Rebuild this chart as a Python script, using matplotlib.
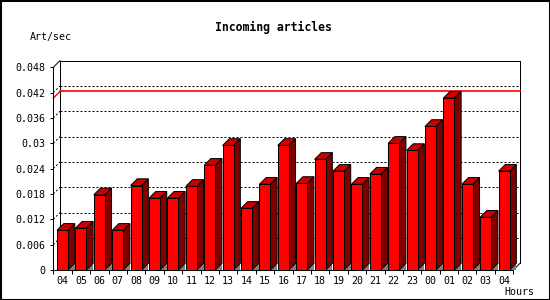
import matplotlib
matplotlib.use("Agg")
import matplotlib.pyplot as plt
from matplotlib.patches import Polygon, Rectangle
from matplotlib.lines import Line2D
import numpy as np

# ---------------- data ----------------
hours = ["04", "05", "06", "07", "08", "09", "10", "11", "12", "13", "14", "15",
         "16", "17", "18", "19", "20", "21", "22", "23", "00", "01", "02", "03", "04"]
rates = [0.0094, 0.0099, 0.0178, 0.0094, 0.0200, 0.0170, 0.0170, 0.0198, 0.0248,
         0.0295, 0.0146, 0.0203, 0.0295, 0.0205, 0.0262, 0.0234, 0.0203, 0.0227,
         0.0300, 0.0283, 0.0340, 0.0407, 0.0203, 0.0125, 0.0234]
yticks = [0, 0.006, 0.012, 0.018, 0.024, 0.030, 0.036, 0.042, 0.048]
ytick_labels = ["0", "0.006", "0.012", "0.018", "0.024", "0.03", "0.036", "0.042", "0.048"]
title = "Incoming articles"
ylabel = "Art/sec"
xlabel = "Hours"

# ---------------- figure ----------------
W, H = 550, 300
fig = plt.figure(figsize=(W / 100, H / 100), dpi=100)
fig.patch.set_facecolor("white")
fig.add_artist(Rectangle((0, 0), 1, 1, transform=fig.transFigure, fill=False,
                         edgecolor="black", lw=2.2))

ax_left, ax_right, ax_top, ax_bot = 53.3, 513.3, 67.3, 270.0
ax = fig.add_axes([ax_left / W, 1 - ax_bot / H, (ax_right - ax_left) / W, (ax_bot - ax_top) / H])
ax.set_facecolor("none")
n = len(rates)
xmin, xmax = -0.5, n - 0.5
ymax = yticks[-1]
ax.set_xlim(xmin, xmax)
ax.set_ylim(0, ymax)

# 3D depth in data units
depth_px = 6.7
px_per_x = (ax_right - ax_left) / (xmax - xmin)
px_per_y = (ax_bot - ax_top) / ymax
dx = depth_px / px_per_x
dy = depth_px / px_per_y

LW = 0.72
mono = "DejaVu Sans Mono"

def line(xs, ys, snap=None, **kw):
    ax.add_line(Line2D(xs, ys, clip_on=False, snap=snap, **kw))

# back frame
line([xmin + dx, xmax + dx], [ymax + dy, ymax + dy], snap=True, color="black", lw=LW, zorder=1)
line([xmin + dx, xmin + dx], [dy, ymax + dy], snap=True, color="black", lw=LW, zorder=1)
line([xmax + dx, xmax + dx], [dy, ymax + dy], snap=True, color="black", lw=LW, zorder=1)
line([xmin, xmin + dx], [ymax, ymax + dy], color="black", lw=LW, zorder=1)
line([xmax, xmax + dx], [0, dy], color="black", lw=LW, zorder=1)

# dotted grid lines on back wall
for yv in yticks[1:-1]:
    line([xmin + dx, xmax + dx], [yv + dy, yv + dy], snap=True, color="black",
         lw=LW, linestyle=(0, (2.0, 2.0)), zorder=1)
    line([xmin, xmin + dx], [yv, yv + dy], color="black",
         lw=LW, linestyle=(0, (2.0, 2.0)), zorder=1)

# max line
vmax = max(rates)
line([xmin, xmin + dx], [vmax, vmax + dy], color="#ff0000", lw=1.0, zorder=1.5)
line([xmin + dx, xmax + dx], [vmax + dy, vmax + dy], snap=True, color="#ff0000",
     lw=1.2, zorder=1.5)

# bars
bw = 0.6
for i, v in enumerate(rates):
    x0, x1 = i - bw / 2, i + bw / 2
    ax.add_patch(Polygon([(x1, 0), (x1 + dx, 0), (x1 + dx, dy)], closed=True,
                         facecolor="#808080", edgecolor="none", zorder=2, clip_on=False))
    ax.add_patch(Polygon([(x1, 0), (x1 + dx, dy), (x1 + dx, v + dy), (x1, v)], closed=True,
                         facecolor="#800000", edgecolor="black", lw=LW, zorder=3,
                         clip_on=False, joinstyle="miter"))
    ax.add_patch(Polygon([(x0, v), (x1, v), (x1 + dx, v + dy), (x0 + dx, v + dy)], closed=True,
                         facecolor="#cc0000", edgecolor="black", lw=LW, zorder=3,
                         clip_on=False, joinstyle="miter"))
    ax.add_patch(Rectangle((x0, 0), bw, v, facecolor="#ff0000", edgecolor="black",
                           lw=LW, zorder=4, clip_on=False, joinstyle="miter", snap=True))

# axes / ticks
for s in ["top", "right"]:
    ax.spines[s].set_visible(False)
for s in ["left", "bottom"]:
    ax.spines[s].set_linewidth(LW)
    ax.spines[s].set_zorder(5)

ax.set_yticks(yticks)
ax.set_yticklabels(ytick_labels, fontfamily=mono, fontsize=7.2)
ax.tick_params(axis="y", direction="out", length=2.5, width=LW, pad=3.5)

ax.set_xticks(np.arange(xmin, xmax + 0.01, 1.0))
ax.set_xticklabels([])
ax.tick_params(axis="x", which="major", direction="out", length=3, width=LW)
ax.set_xticks(np.arange(n), minor=True)
ax.set_xticklabels(hours, minor=True, fontfamily=mono, fontsize=7.2)
ax.tick_params(axis="x", which="minor", length=0, pad=4.5)

# texts
fig.text(273.8 / W, 1 - 27.3 / H, title, ha="center", va="center",
         fontfamily=mono, fontweight="bold", fontsize=8.3)
fig.text(30 / W, 1 - 37 / H, ylabel, ha="left", va="center", fontfamily=mono, fontsize=7.2)
fig.text(534 / W, 1 - 292 / H, xlabel, ha="right", va="center", fontfamily=mono, fontsize=7.2)

fig.savefig("out.png", dpi=100, facecolor="white")
